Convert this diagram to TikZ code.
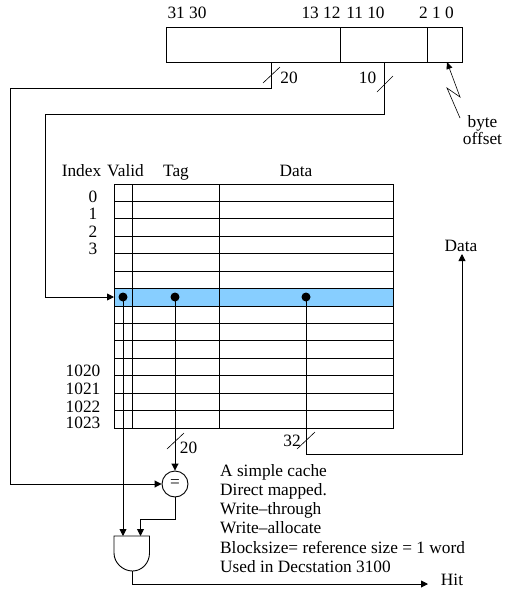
\documentclass[tikz,border=0pt]{standalone}
\usepackage{fontspec}
\setmainfont{Liberation Serif}
\usetikzlibrary{arrows.meta,calc,positioning}
\definecolor{rowblue}{HTML}{87CEFF}
\tikzset{
  wire/.style={line width=0.9pt},
  arrowwire/.style={wire,-{Triangle[length=7pt,width=7pt]}},
  tick/.style={line width=0.6pt},
  lbl/.style={inner sep=0pt,anchor=base,font=\fontsize{17.3}{14}\selectfont},
  txt/.style={lbl,anchor=base west},
  idx/.style={lbl,anchor=base east}
}
\begin{document}
\begin{tikzpicture}[x=1pt,y=-1pt]
            \useasboundingbox (0,0) rectangle (509,595);
            \def\r{17.43}
            % address register
            \coordinate (a1) at (166, 27);
            \coordinate (a2) at (462, 62);
            \draw[wire] (a1) rectangle (a2);
            \draw[wire] (340.5, 27) -- (340.5, 62);
            \draw[wire] (427.5, 27) -- (427.5, 62);
            \node[lbl] (b31) at (187, 18) {31 30};
            \node[lbl] (b13) at (321, 18) {13 12};
            \node[lbl] (b11) at (365.5, 18) {11 10};
            \node[lbl] (b2) at (436.5, 18) {2 1 0};
            % table
            \coordinate (t1) at (114, 184);
            \coordinate (t2) at (393, 428);
            \fill[rowblue] (114, 184+6*\r) rectangle (393, 184+7*\r);
            \draw[wire] (t1) rectangle (t2);
            \draw[wire] (132.5, 184) -- (132.5, 428);
            \draw[wire] (219.5, 184) -- (219.5, 428);
            \foreach \k in {1,...,13} {
              \draw[wire] (114, 184+\k*\r) -- (393, 184+\k*\r);
            }
            \node[lbl] (hindex) at (81.5, 176) {Index};
            \node[lbl] (hvalid) at (125.5, 176) {Valid};
            \node[lbl] (htag) at (176, 176) {Tag};
            \node[lbl] (hdata) at (296, 176) {Data};
            \node[idx] (i0) at (97.5, 202) {0};
            \node[idx] (i1) at (97.5, 219) {1};
            \node[idx] (i2) at (97.5, 237) {2};
            \node[idx] (i3) at (97.5, 254) {3};
            \node[idx] (i1020) at (100.5, 376) {1020};
            \node[idx] (i1021) at (100.5, 394) {1021};
            \node[idx] (i1022) at (100.5, 412) {1022};
            \node[idx] (i1023) at (100.5, 428) {1023};
            % dots in the selected row
            \coordinate (v) at (123, 297);
            \coordinate (g) at (175, 297);
            \coordinate (d) at (306, 297);
            \fill (v) circle (4.5pt);
            \fill (g) circle (4.5pt);
            \fill (d) circle (4.5pt);
            % comparator and gate
            \node[draw,circle,wire,minimum size=26pt,inner sep=0pt,font=\fontsize{17.3}{17.3}\selectfont] (eq) at (175, 484) {=};
            \coordinate (and1) at (123, 536);
            \coordinate (and2) at (140.5, 536);
            \coordinate (andout) at (132.5, 571);
            \draw[wire] (114, 536) -- (149.5, 536) -- (149.5, 553)
              .. controls (149.5, 563) and (142, 571) .. (andout)
              .. controls (123, 571) and (114, 563) .. (114, 553) -- cycle;
            % wires
            \coordinate (w20) at (271, 62);
            \coordinate (w10) at (384, 62);
            \coordinate (rowin) at (114, 297);
            \coordinate (hit) at (428, 584);
            \coordinate (dataout) at (462, 254);
            \draw[arrowwire] (w20) |- (10, 88) |- (eq.west);
            \draw[arrowwire] (w10) |- (45, 114) |- (rowin);
            \draw[arrowwire] (g) -- (eq.north);
            \draw[arrowwire] (v) -- (and1);
            \draw[arrowwire] (eq.south) |- (140.5, 519) -- (and2);
            \draw[arrowwire] (andout) |- (hit);
            \draw[arrowwire] (d) |- (462, 454) -- (dataout);
            % width marks
            \draw[tick] (263, 83) -- (280, 67);
            \draw[tick] (377, 92) -- (393, 76);
            \draw[tick] (167, 449) -- (184, 433);
            \draw[tick] (297, 449) -- (315, 432);
            \node[lbl] (n20a) at (289, 83) {20};
            \node[lbl] (n10) at (367.5, 83) {10};
            \node[lbl] (n20b) at (188.5, 453) {20};
            \node[lbl] (n32) at (292, 446) {32};
            % byte offset
            \coordinate (z1) at (447, 62);
            \coordinate (z2) at (460, 97);
            \coordinate (z3) at (447, 88);
            \coordinate (z4) at (460, 118);
            \draw[tick,{Triangle[length=7pt,width=6pt]}-] (z1) -- (z2) -- (z3) -- (z4);
            \node[lbl,anchor=center,align=center] (offset) at (482.5, 130) {byte\\offset};
            \node[lbl] (ndata) at (461, 251) {Data};
            \node[lbl] (nhit) at (452, 585) {Hit};
            % notes
            \node[txt] (l1) at (220, 476) {A simple cache};
            \node[txt] (l2) at (220, 495) {Direct mapped.};
            \node[txt] (l3) at (220, 514) {Write--through};
            \node[txt] (l4) at (220, 533) {Write--allocate};
            \node[txt] (l5) at (220, 553) {Blocksize= reference size = 1 word};
            \node[txt] (l6) at (220, 572) {Used in Decstation 3100};
          \end{tikzpicture}
\end{document}
